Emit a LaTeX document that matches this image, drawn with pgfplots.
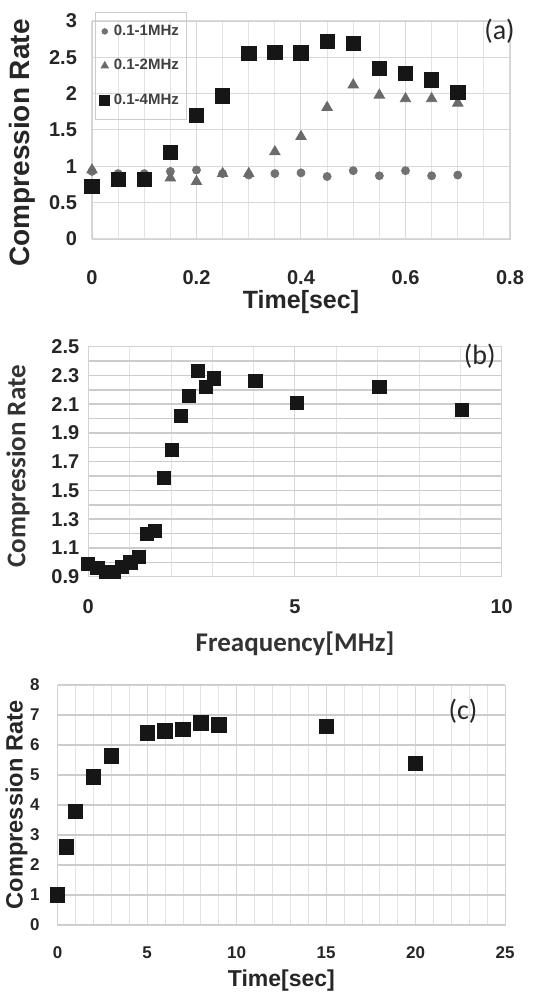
\documentclass[border=0pt]{standalone}
\usepackage{fontspec}
\setmainfont{Liberation Sans}
\newfontfamily\calibri{Carlito}
\usepackage{pgfplots}
\pgfplotsset{compat=1.18}

\definecolor{sqcol}{HTML}{161616}
\definecolor{tricol}{HTML}{6A6A6A}
\definecolor{circol}{HTML}{727272}

\pgfplotsset{
  excel/.style={
    scale only axis,
    anchor=south west,
    axis line style={draw=gray!35},
    major tick length=0pt,
    minor tick length=0pt,
    grid style={gray!30, line width=0.5pt},
    minor grid style={gray!22, line width=0.4pt},
    /pgf/number format/assume math mode=true,
    clip=false,
  },
}

\begin{document}
\begin{tikzpicture}
\useasboundingbox (0,0) rectangle (272pt,498.5pt);

% ---------- (a) ----------
\begin{axis}[excel,
  at={(46pt,379pt)}, width=209pt, height=109pt,
  xmin=0, xmax=0.8, ymin=0, ymax=3,
  xtick={0,0.2,0.4,0.6,0.8}, minor x tick num=3,
  ytick={0,0.5,1,1.5,2,2.5,3},
  xmajorgrids, xminorgrids, ymajorgrids,
  ticklabel style={font=\bfseries\fontsize{10}{12}\selectfont, text=black!85},
  xticklabel style={yshift=-12pt},
  yticklabel style={xshift=-4pt},
  xlabel={Time[sec]},
  ylabel={Compression Rate},
  xlabel style={font=\bfseries\fontsize{12.5}{14}\selectfont, text=black!85,
    at={(axis description cs:0.5,-0.289)}, anchor=center},
  ylabel style={font=\bfseries\fontsize{14}{16}\selectfont, text=black!85,
    at={(axis description cs:-0.166,0.44)}, anchor=center},
  legend style={at={(axis description cs:0.008,1.04)}, anchor=north west,
    draw=gray!40, fill=none,
    font=\bfseries\fontsize{7.5}{9}\selectfont, text=black!75,
    row sep=6.5pt, inner xsep=2pt, inner ysep=4pt},
  legend image post style={scale=0.7},
  legend cell align=left,
]
\addplot[only marks, mark=*, mark size=2pt, mark options={fill=circol, draw=circol}] coordinates {
  (0,0.93)(0.05,0.90)(0.1,0.90)(0.15,0.93)(0.2,0.95)(0.25,0.90)(0.3,0.88)
  (0.35,0.90)(0.4,0.91)(0.45,0.86)(0.5,0.94)(0.55,0.87)(0.6,0.94)(0.65,0.87)(0.7,0.88)
};
\addlegendentry{0.1-1MHz}
\addplot[only marks, mark=triangle*, mark size=3pt, mark options={fill=tricol, draw=tricol}] coordinates {
  (0,0.95)(0.05,0.85)(0.1,0.85)(0.15,0.84)(0.2,0.79)(0.25,0.90)(0.3,0.90)
  (0.35,1.20)(0.4,1.41)(0.45,1.81)(0.5,2.12)(0.55,1.98)(0.6,1.93)(0.65,1.93)(0.7,1.87)
};
\addlegendentry{0.1-2MHz}
\addplot[only marks, mark=square*, mark size=3.6pt, mark options={fill=sqcol, draw=sqcol}] coordinates {
  (0,0.72)(0.05,0.82)(0.1,0.82)(0.15,1.19)(0.2,1.70)(0.25,1.97)(0.3,2.55)
  (0.35,2.57)(0.4,2.56)(0.45,2.72)(0.5,2.69)(0.55,2.35)(0.6,2.28)(0.65,2.19)(0.7,2.02)
};
\addlegendentry{0.1-4MHz}
\node[font=\calibri\fontsize{14}{16}\selectfont, text=black!85] at (rel axis cs:0.975,0.955) {(a)};
\end{axis}

% ---------- (b) ----------
\begin{axis}[excel,
  at={(44.15pt,210.15pt)}, width=206.7pt, height=115pt,
  xmin=0, xmax=10, ymin=0.9, ymax=2.5,
  xtick={0,5,10}, minor x tick num=4,
  ytick={0.9,1.1,1.3,1.5,1.7,1.9,2.1,2.3,2.5},
  minor y tick num=1,
  xmajorgrids, xminorgrids, ymajorgrids, yminorgrids,
  minor grid style={gray!22, line width=0.4pt},
  y grid style={gray!40, line width=0.7pt},
  /pgf/number format/fixed, /pgf/number format/precision=1,
  ticklabel style={font=\bfseries\fontsize{10}{12}\selectfont, text=black!85},
  xticklabel style={yshift=-8pt},
  yticklabel style={xshift=-1pt},
  xlabel={Freaquency[MHz]},
  ylabel={Compression Rate},
  xlabel style={font=\calibri\bfseries\fontsize{13.5}{15}\selectfont, text=black!80,
    at={(axis description cs:0.5,-0.29)}, anchor=center},
  ylabel style={font=\calibri\bfseries\fontsize{13.5}{15}\selectfont, text=black!80,
    at={(axis description cs:-0.17,0.48)}, anchor=center},
]
\addplot[only marks, mark=square*, mark size=3.3pt, mark options={fill=sqcol, draw=sqcol}] coordinates {
  (0,0.99)(0.22,0.96)(0.42,0.935)(0.62,0.935)(0.82,0.97)(1.02,1.00)(1.22,1.04)
  (1.42,1.20)(1.62,1.22)(1.82,1.59)(2.02,1.78)(2.24,2.02)(2.44,2.16)(2.65,2.33)
  (2.84,2.22)(3.04,2.28)(4.04,2.26)(5.04,2.11)(7.04,2.22)(9.03,2.06)
};
\node[font=\calibri\fontsize{14}{16}\selectfont, text=black!85] at (rel axis cs:0.947,0.96) {(b)};
\end{axis}

% ---------- (c) ----------
\begin{axis}[excel,
  at={(28.85pt,36pt)}, width=223.7pt, height=120pt,
  xmin=0, xmax=25, ymin=0, ymax=8,
  xtick={0,5,10,15,20,25}, minor x tick num=4,
  ytick={0,1,2,3,4,5,6,7,8},
  xmajorgrids, xminorgrids, ymajorgrids,
  y grid style={gray!40, line width=0.7pt},
  ticklabel style={font=\bfseries\fontsize{8.5}{10}\selectfont, text=black!85},
  xticklabel style={yshift=-7.5pt},
  yticklabel style={xshift=-5.5pt},
  xlabel={Time[sec]},
  ylabel={Compression Rate},
  xlabel style={font=\bfseries\fontsize{11.5}{13}\selectfont, text=black!85,
    at={(axis description cs:0.5,-0.23)}, anchor=center},
  ylabel style={font=\bfseries\fontsize{11.8}{13}\selectfont, text=black!85,
    at={(axis description cs:-0.092,0.5)}, anchor=center},
]
\addplot[only marks, mark=square*, mark size=3.6pt, mark options={fill=sqcol, draw=sqcol}] coordinates {
  (0,1.0)(0.5,2.61)(1,3.78)(2,4.94)(3,5.64)(5,6.41)(6,6.47)(7,6.53)
  (8,6.74)(9,6.67)(15,6.63)(20,5.39)
};
\node[font=\calibri\fontsize{14}{16}\selectfont, text=black!85] at (rel axis cs:0.906,0.89) {(c)};
\end{axis}
\end{tikzpicture}
\end{document}
